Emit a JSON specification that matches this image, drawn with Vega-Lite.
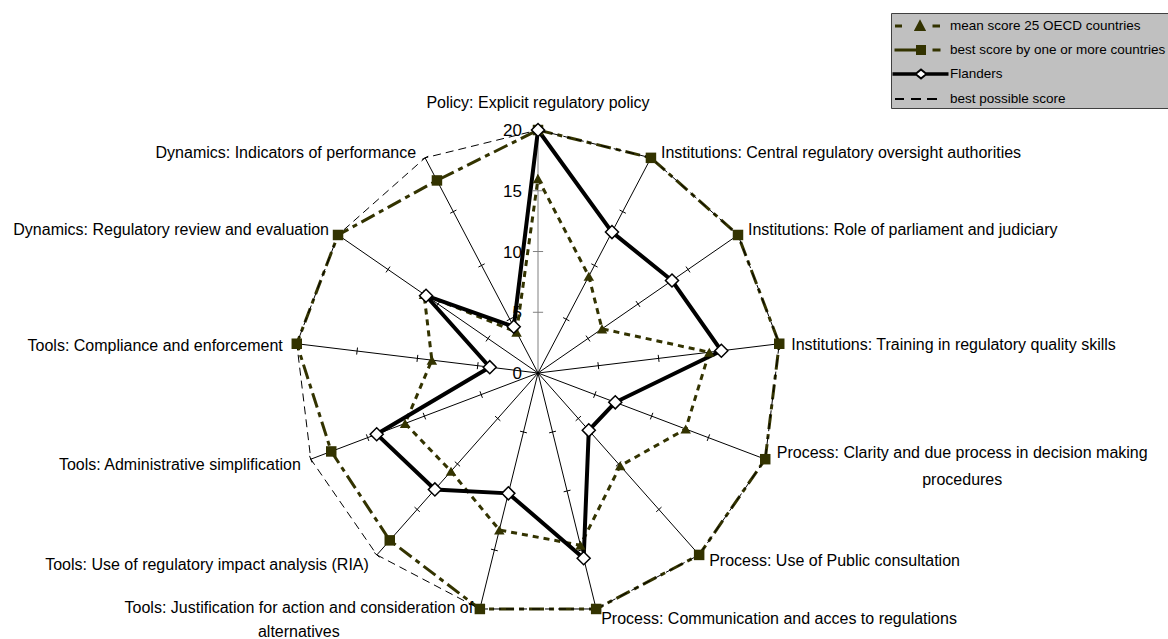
{
  "$schema": "https://vega.github.io/schema/vega-lite/v6.json",
  "width": 1168,
  "height": 639,
  "autosize": "none",
  "padding": 0,
  "background": "white",
  "config": {"view": {"stroke": null}, "font": "Liberation Sans"},
  "datasets": {
    "axes": [
      {"i": 0, "name": "Policy: Explicit regulatory policy", "ticks": [5, 10, 15, 20]},
      {"i": 1, "name": "Institutions: Central regulatory oversight authorities", "ticks": [5, 10, 15, 20]},
      {"i": 2, "name": "Institutions: Role of parliament and judiciary", "ticks": [5, 10, 15, 20]},
      {"i": 3, "name": "Institutions: Training in regulatory quality skills", "ticks": [5, 10, 15, 20]},
      {"i": 4, "name": "Process: Clarity and due process in decision making\nprocedures", "ticks": [5, 10, 15, 20]},
      {"i": 5, "name": "Process: Use of Public consultation", "ticks": [5, 10, 15, 20]},
      {"i": 6, "name": "Process: Communication and acces to regulations", "ticks": [5, 10, 15, 20]},
      {"i": 7, "name": "Tools: Justification for action and consideration of\nalternatives", "ticks": [5, 10, 15, 20]},
      {"i": 8, "name": "Tools: Use of regulatory impact analysis (RIA)", "ticks": [5, 10, 15, 20]},
      {"i": 9, "name": "Tools: Administrative simplification", "ticks": [5, 10, 15, 20]},
      {"i": 10, "name": "Tools: Compliance and enforcement", "ticks": [5, 10, 15, 20]},
      {"i": 11, "name": "Dynamics: Regulatory review and evaluation", "ticks": [5, 10, 15, 20]},
      {"i": 12, "name": "Dynamics: Indicators of performance", "ticks": [5, 10, 15, 20]}
    ],
    "scaleLabels": [{"v": 0}, {"v": 5}, {"v": 10}, {"v": 15}, {"v": 20}],
    "scores": [
      {"i": 0, "series": "mean score 25 OECD countries", "value": 16.0},
      {"i": 1, "series": "mean score 25 OECD countries", "value": 9.0},
      {"i": 2, "series": "mean score 25 OECD countries", "value": 6.4},
      {"i": 3, "series": "mean score 25 OECD countries", "value": 14.2},
      {"i": 4, "series": "mean score 25 OECD countries", "value": 13.0},
      {"i": 5, "series": "mean score 25 OECD countries", "value": 10.2},
      {"i": 6, "series": "mean score 25 OECD countries", "value": 14.6},
      {"i": 7, "series": "mean score 25 OECD countries", "value": 13.3},
      {"i": 8, "series": "mean score 25 OECD countries", "value": 10.8},
      {"i": 9, "series": "mean score 25 OECD countries", "value": 11.7},
      {"i": 10, "series": "mean score 25 OECD countries", "value": 8.8},
      {"i": 11, "series": "mean score 25 OECD countries", "value": 11.4},
      {"i": 12, "series": "mean score 25 OECD countries", "value": 3.8},
      {"i": 0, "series": "best score by one or more countries", "value": 20},
      {"i": 1, "series": "best score by one or more countries", "value": 20},
      {"i": 2, "series": "best score by one or more countries", "value": 20},
      {"i": 3, "series": "best score by one or more countries", "value": 20},
      {"i": 4, "series": "best score by one or more countries", "value": 20},
      {"i": 5, "series": "best score by one or more countries", "value": 20},
      {"i": 6, "series": "best score by one or more countries", "value": 20},
      {"i": 7, "series": "best score by one or more countries", "value": 20},
      {"i": 8, "series": "best score by one or more countries", "value": 18.4},
      {"i": 9, "series": "best score by one or more countries", "value": 18.2},
      {"i": 10, "series": "best score by one or more countries", "value": 20},
      {"i": 11, "series": "best score by one or more countries", "value": 20},
      {"i": 12, "series": "best score by one or more countries", "value": 17.9},
      {"i": 0, "series": "Flanders", "value": 20},
      {"i": 1, "series": "Flanders", "value": 13.1},
      {"i": 2, "series": "Flanders", "value": 13.4},
      {"i": 3, "series": "Flanders", "value": 15.2},
      {"i": 4, "series": "Flanders", "value": 6.8},
      {"i": 5, "series": "Flanders", "value": 6.3},
      {"i": 6, "series": "Flanders", "value": 15.7},
      {"i": 7, "series": "Flanders", "value": 10.2},
      {"i": 8, "series": "Flanders", "value": 12.8},
      {"i": 9, "series": "Flanders", "value": 14.2},
      {"i": 10, "series": "Flanders", "value": 4.0},
      {"i": 11, "series": "Flanders", "value": 11.2},
      {"i": 12, "series": "Flanders", "value": 4.3},
      {"i": 0, "series": "best possible score", "value": 20},
      {"i": 1, "series": "best possible score", "value": 20},
      {"i": 2, "series": "best possible score", "value": 20},
      {"i": 3, "series": "best possible score", "value": 20},
      {"i": 4, "series": "best possible score", "value": 20},
      {"i": 5, "series": "best possible score", "value": 20},
      {"i": 6, "series": "best possible score", "value": 20},
      {"i": 7, "series": "best possible score", "value": 20},
      {"i": 8, "series": "best possible score", "value": 20},
      {"i": 9, "series": "best possible score", "value": 20},
      {"i": 10, "series": "best possible score", "value": 20},
      {"i": 11, "series": "best possible score", "value": 20},
      {"i": 12, "series": "best possible score", "value": 20}
    ]
  },
  "layer": [
    {
      "data": {"name": "axes"},
      "transform": [
        {"calculate": "datum.i * 2 * PI / 13", "as": "a"},
        {"calculate": "20 * sin(datum.a)", "as": "ex"},
        {"calculate": "20 * cos(datum.a)", "as": "ey"}
      ],
      "mark": {"type": "rule", "strokeWidth": 1},
      "encoding": {
        "x": {"field": "ex", "type": "quantitative", "scale": {"domain": [-44.28, 51.85], "nice": false, "zero": false}, "axis": null},
        "x2": {"datum": 0},
        "y": {"field": "ey", "type": "quantitative", "scale": {"domain": [-21.89, 30.7], "nice": false, "zero": false}, "axis": null},
        "y2": {"datum": 0},
        "color": {"condition": {"test": "datum.i === 0", "value": "#808080"}, "value": "#000000"}
      }
    },
    {
      "data": {"name": "axes"},
      "transform": [
        {"flatten": ["ticks"], "as": ["t"]},
        {"calculate": "datum.i * 2 * PI / 13", "as": "a"},
        {"calculate": "datum.i === 0 ? 0.42 : 0.29", "as": "d"},
        {"calculate": "datum.t * sin(datum.a) - datum.d * cos(datum.a)", "as": "x1"},
        {"calculate": "datum.t * cos(datum.a) + datum.d * sin(datum.a)", "as": "y1"},
        {"calculate": "datum.t * sin(datum.a) + datum.d * cos(datum.a)", "as": "x2"},
        {"calculate": "datum.t * cos(datum.a) - datum.d * sin(datum.a)", "as": "y2"}
      ],
      "mark": {"type": "rule", "strokeWidth": 1},
      "encoding": {
        "x": {"field": "x1", "type": "quantitative", "scale": {"domain": [-44.28, 51.85], "nice": false, "zero": false}, "axis": null},
        "x2": {"field": "x2"},
        "y": {"field": "y1", "type": "quantitative", "scale": {"domain": [-21.89, 30.7], "nice": false, "zero": false}, "axis": null},
        "y2": {"field": "y2"},
        "color": {"condition": {"test": "datum.i === 0", "value": "#808080"}, "value": "#000000"}
      }
    },
    {
      "data": {"name": "scaleLabels"},
      "mark": {"type": "text", "align": "right", "baseline": "middle", "dx": -16, "dy": 1, "fontSize": 17, "color": "#000000"},
      "encoding": {
        "x": {"datum": 0, "type": "quantitative", "scale": {"domain": [-44.28, 51.85], "nice": false, "zero": false}, "axis": null},
        "y": {"field": "v", "type": "quantitative", "scale": {"domain": [-21.89, 30.7], "nice": false, "zero": false}, "axis": null},
        "text": {"field": "v", "type": "quantitative"}
      }
    },
    {
      "data": {"name": "scores"},
      "transform": [
        {"filter": "datum.series === 'mean score 25 OECD countries'"},
        {"calculate": "datum.i * 2 * PI / 13", "as": "a"},
        {"calculate": "datum.value * sin(datum.a)", "as": "px"},
        {"calculate": "datum.value * cos(datum.a)", "as": "py"}
      ],
      "mark": {"type": "line", "interpolate": "linear-closed", "strokeWidth": 3, "strokeDash": [6, 5]},
      "encoding": {
        "x": {"field": "px", "type": "quantitative", "scale": {"domain": [-44.28, 51.85], "nice": false, "zero": false}, "axis": null},
        "y": {"field": "py", "type": "quantitative", "scale": {"domain": [-21.89, 30.7], "nice": false, "zero": false}, "axis": null},
        "order": {"field": "i", "type": "quantitative"},
        "color": {
          "field": "series",
          "type": "nominal",
          "scale": {
            "domain": ["mean score 25 OECD countries", "best score by one or more countries", "Flanders", "best possible score"],
            "range": ["#333300", "#333300", "#000000", "#000000"]
          },
          "legend": {
            "orient": "none",
            "legendX": 891,
            "legendY": 13,
            "title": null,
            "padding": 2,
            "rowPadding": 5,
            "fillColor": "#c0c0c0",
            "strokeColor": "#404040",
            "labelFont": "Liberation Sans",
            "labelFontSize": 13.5,
            "labelColor": "#000000",
            "labelLimit": 400,
            "symbolSize": 400,
            "symbolStrokeWidth": 2,
            "symbolOffset": 16,
            "labelOffset": 19,
            "encode": {
              "symbols": {
                "update": {
                  "shape": {"signal": "datum.value === 'Flanders' ? 'M-2.65,-0.08H-0.45V0.08H-2.65Z M-0.45,0L0.1,-0.45L0.65,0L0.1,0.45Z M0.65,-0.08H2.75V0.08H0.65Z' : datum.value === 'best possible score' ? 'M-2.5,0H-1.6 M-0.9,0H0.1 M0.7,0H1.7' : datum.value === 'best score by one or more countries' ? 'M-2.45,-0.05H-0.35V0.05H-2.45Z M-0.3,-0.4H0.5V0.4H-0.3Z M1.35,-0.05H1.95V0.05H1.35Z' : 'M-2.4,-0.05H-1.9V0.05H-2.4Z M-0.45,0.4L0,-0.45L0.45,0.4Z M1.35,-0.05H1.9V0.05H1.35Z'"},
                  "fill": {"signal": "datum.value === 'Flanders' ? '#ffffff' : datum.value === 'best possible score' ? 'transparent' : '#333300'"},
                  "stroke": {"signal": "datum.value === 'Flanders' || datum.value === 'best possible score' ? '#000000' : '#333300'"},
                  "opacity": {"value": 1}
                }
              }
            }
          }
        }
      }
    },
    {
      "data": {"name": "scores"},
      "transform": [
        {"filter": "datum.series === 'best score by one or more countries'"},
        {"calculate": "datum.i * 2 * PI / 13", "as": "a"},
        {"calculate": "datum.value * sin(datum.a)", "as": "px"},
        {"calculate": "datum.value * cos(datum.a)", "as": "py"}
      ],
      "mark": {"type": "line", "interpolate": "linear-closed", "strokeWidth": 3, "strokeDash": [15, 5, 5, 5], "color": "#333300"},
      "encoding": {
        "x": {"field": "px", "type": "quantitative", "scale": {"domain": [-44.28, 51.85], "nice": false, "zero": false}, "axis": null},
        "y": {"field": "py", "type": "quantitative", "scale": {"domain": [-21.89, 30.7], "nice": false, "zero": false}, "axis": null},
        "order": {"field": "i", "type": "quantitative"}
      }
    },
    {
      "data": {"name": "scores"},
      "transform": [
        {"filter": "datum.series === 'best possible score'"},
        {"calculate": "datum.i * 2 * PI / 13", "as": "a"},
        {"calculate": "datum.value * sin(datum.a)", "as": "px"},
        {"calculate": "datum.value * cos(datum.a)", "as": "py"}
      ],
      "mark": {"type": "line", "interpolate": "linear-closed", "strokeWidth": 1, "strokeDash": [8, 5], "color": "#000000"},
      "encoding": {
        "x": {"field": "px", "type": "quantitative", "scale": {"domain": [-44.28, 51.85], "nice": false, "zero": false}, "axis": null},
        "y": {"field": "py", "type": "quantitative", "scale": {"domain": [-21.89, 30.7], "nice": false, "zero": false}, "axis": null},
        "order": {"field": "i", "type": "quantitative"}
      }
    },
    {
      "data": {"name": "scores"},
      "transform": [
        {"filter": "datum.series === 'Flanders'"},
        {"calculate": "datum.i * 2 * PI / 13", "as": "a"},
        {"calculate": "datum.value * sin(datum.a)", "as": "px"},
        {"calculate": "datum.value * cos(datum.a)", "as": "py"}
      ],
      "mark": {"type": "line", "interpolate": "linear-closed", "strokeWidth": 4, "color": "#000000"},
      "encoding": {
        "x": {"field": "px", "type": "quantitative", "scale": {"domain": [-44.28, 51.85], "nice": false, "zero": false}, "axis": null},
        "y": {"field": "py", "type": "quantitative", "scale": {"domain": [-21.89, 30.7], "nice": false, "zero": false}, "axis": null},
        "order": {"field": "i", "type": "quantitative"}
      }
    },
    {
      "data": {"name": "scores"},
      "transform": [
        {"filter": "datum.series === 'mean score 25 OECD countries'"},
        {"calculate": "datum.i * 2 * PI / 13", "as": "a"},
        {"calculate": "datum.value * sin(datum.a)", "as": "px"},
        {"calculate": "datum.value * cos(datum.a)", "as": "py"}
      ],
      "mark": {"type": "point", "shape": "triangle-up", "filled": true, "size": 110, "color": "#333300", "opacity": 1},
      "encoding": {
        "x": {"field": "px", "type": "quantitative", "scale": {"domain": [-44.28, 51.85], "nice": false, "zero": false}, "axis": null},
        "y": {"field": "py", "type": "quantitative", "scale": {"domain": [-21.89, 30.7], "nice": false, "zero": false}, "axis": null}
      }
    },
    {
      "data": {"name": "scores"},
      "transform": [
        {"filter": "datum.series === 'best score by one or more countries'"},
        {"calculate": "datum.i * 2 * PI / 13", "as": "a"},
        {"calculate": "datum.value * sin(datum.a)", "as": "px"},
        {"calculate": "datum.value * cos(datum.a)", "as": "py"}
      ],
      "mark": {"type": "point", "shape": "square", "filled": true, "size": 110, "color": "#333300", "opacity": 1},
      "encoding": {
        "x": {"field": "px", "type": "quantitative", "scale": {"domain": [-44.28, 51.85], "nice": false, "zero": false}, "axis": null},
        "y": {"field": "py", "type": "quantitative", "scale": {"domain": [-21.89, 30.7], "nice": false, "zero": false}, "axis": null}
      }
    },
    {
      "data": {"name": "scores"},
      "transform": [
        {"filter": "datum.series === 'Flanders'"},
        {"calculate": "datum.i * 2 * PI / 13", "as": "a"},
        {"calculate": "datum.value * sin(datum.a)", "as": "px"},
        {"calculate": "datum.value * cos(datum.a)", "as": "py"}
      ],
      "mark": {"type": "point", "shape": "diamond", "filled": true, "size": 170, "fill": "#ffffff", "stroke": "#000000", "strokeWidth": 1.5, "opacity": 1},
      "encoding": {
        "x": {"field": "px", "type": "quantitative", "scale": {"domain": [-44.28, 51.85], "nice": false, "zero": false}, "axis": null},
        "y": {"field": "py", "type": "quantitative", "scale": {"domain": [-21.89, 30.7], "nice": false, "zero": false}, "axis": null}
      }
    },
    {
      "data": {"name": "axes"},
      "transform": [
        {"filter": "datum.i === 0"},
        {"calculate": "datum.i * 2 * PI / 13", "as": "a"},
        {"calculate": "20 * sin(datum.a)", "as": "ex"},
        {"calculate": "20 * cos(datum.a)", "as": "ey"}
      ],
      "mark": {"type": "text", "align": "center", "baseline": "middle", "dy": -27, "fontSize": 16, "color": "#000000"},
      "encoding": {
        "x": {"field": "ex", "type": "quantitative", "scale": {"domain": [-44.28, 51.85], "nice": false, "zero": false}, "axis": null},
        "y": {"field": "ey", "type": "quantitative", "scale": {"domain": [-21.89, 30.7], "nice": false, "zero": false}, "axis": null},
        "text": {"field": "name", "type": "nominal"}
      }
    },
    {
      "data": {"name": "axes"},
      "transform": [
        {"filter": "datum.i === 4"},
        {"calculate": "datum.i * 2 * PI / 13", "as": "a"},
        {"calculate": "20 * sin(datum.a)", "as": "ex"},
        {"calculate": "20 * cos(datum.a)", "as": "ey"}
      ],
      "mark": {"type": "text", "align": "center", "baseline": "middle", "dx": 197, "dy": -6, "fontSize": 16, "color": "#000000", "lineBreak": "\n", "lineHeight": 27},
      "encoding": {
        "x": {"field": "ex", "type": "quantitative", "scale": {"domain": [-44.28, 51.85], "nice": false, "zero": false}, "axis": null},
        "y": {"field": "ey", "type": "quantitative", "scale": {"domain": [-21.89, 30.7], "nice": false, "zero": false}, "axis": null},
        "text": {"field": "name", "type": "nominal"}
      }
    },
    {
      "data": {"name": "axes"},
      "transform": [
        {"filter": "datum.i === 7"},
        {"calculate": "datum.i * 2 * PI / 13", "as": "a"},
        {"calculate": "20 * sin(datum.a)", "as": "ex"},
        {"calculate": "20 * cos(datum.a)", "as": "ey"}
      ],
      "mark": {"type": "text", "align": "center", "baseline": "middle", "dx": -181, "dy": -1, "fontSize": 16, "color": "#000000", "lineBreak": "\n", "lineHeight": 24},
      "encoding": {
        "x": {"field": "ex", "type": "quantitative", "scale": {"domain": [-44.28, 51.85], "nice": false, "zero": false}, "axis": null},
        "y": {"field": "ey", "type": "quantitative", "scale": {"domain": [-21.89, 30.7], "nice": false, "zero": false}, "axis": null},
        "text": {"field": "name", "type": "nominal"}
      }
    },
    {
      "data": {"name": "axes"},
      "transform": [
        {"filter": "datum.i === 1 || datum.i === 2"},
        {"calculate": "datum.i * 2 * PI / 13", "as": "a"},
        {"calculate": "20 * sin(datum.a)", "as": "ex"},
        {"calculate": "20 * cos(datum.a)", "as": "ey"}
      ],
      "mark": {"type": "text", "align": "left", "baseline": "middle", "dx": 10, "dy": -5, "fontSize": 16, "color": "#000000"},
      "encoding": {
        "x": {"field": "ex", "type": "quantitative", "scale": {"domain": [-44.28, 51.85], "nice": false, "zero": false}, "axis": null},
        "y": {"field": "ey", "type": "quantitative", "scale": {"domain": [-21.89, 30.7], "nice": false, "zero": false}, "axis": null},
        "text": {"field": "name", "type": "nominal"}
      }
    },
    {
      "data": {"name": "axes"},
      "transform": [
        {"filter": "datum.i === 3"},
        {"calculate": "datum.i * 2 * PI / 13", "as": "a"},
        {"calculate": "20 * sin(datum.a)", "as": "ex"},
        {"calculate": "20 * cos(datum.a)", "as": "ey"}
      ],
      "mark": {"type": "text", "align": "left", "baseline": "middle", "dx": 12, "dy": 1, "fontSize": 16, "color": "#000000"},
      "encoding": {
        "x": {"field": "ex", "type": "quantitative", "scale": {"domain": [-44.28, 51.85], "nice": false, "zero": false}, "axis": null},
        "y": {"field": "ey", "type": "quantitative", "scale": {"domain": [-21.89, 30.7], "nice": false, "zero": false}, "axis": null},
        "text": {"field": "name", "type": "nominal"}
      }
    },
    {
      "data": {"name": "axes"},
      "transform": [
        {"filter": "datum.i === 5"},
        {"calculate": "datum.i * 2 * PI / 13", "as": "a"},
        {"calculate": "20 * sin(datum.a)", "as": "ex"},
        {"calculate": "20 * cos(datum.a)", "as": "ey"}
      ],
      "mark": {"type": "text", "align": "left", "baseline": "middle", "dx": 10, "dy": 6, "fontSize": 16, "color": "#000000"},
      "encoding": {
        "x": {"field": "ex", "type": "quantitative", "scale": {"domain": [-44.28, 51.85], "nice": false, "zero": false}, "axis": null},
        "y": {"field": "ey", "type": "quantitative", "scale": {"domain": [-21.89, 30.7], "nice": false, "zero": false}, "axis": null},
        "text": {"field": "name", "type": "nominal"}
      }
    },
    {
      "data": {"name": "axes"},
      "transform": [
        {"filter": "datum.i === 6"},
        {"calculate": "datum.i * 2 * PI / 13", "as": "a"},
        {"calculate": "20 * sin(datum.a)", "as": "ex"},
        {"calculate": "20 * cos(datum.a)", "as": "ey"}
      ],
      "mark": {"type": "text", "align": "left", "baseline": "middle", "dx": 5, "dy": 10, "fontSize": 16, "color": "#000000"},
      "encoding": {
        "x": {"field": "ex", "type": "quantitative", "scale": {"domain": [-44.28, 51.85], "nice": false, "zero": false}, "axis": null},
        "y": {"field": "ey", "type": "quantitative", "scale": {"domain": [-21.89, 30.7], "nice": false, "zero": false}, "axis": null},
        "text": {"field": "name", "type": "nominal"}
      }
    },
    {
      "data": {"name": "axes"},
      "transform": [
        {"filter": "datum.i === 8"},
        {"calculate": "datum.i * 2 * PI / 13", "as": "a"},
        {"calculate": "20 * sin(datum.a)", "as": "ex"},
        {"calculate": "20 * cos(datum.a)", "as": "ey"}
      ],
      "mark": {"type": "text", "align": "right", "baseline": "middle", "dx": -8, "dy": 10, "fontSize": 16, "color": "#000000"},
      "encoding": {
        "x": {"field": "ex", "type": "quantitative", "scale": {"domain": [-44.28, 51.85], "nice": false, "zero": false}, "axis": null},
        "y": {"field": "ey", "type": "quantitative", "scale": {"domain": [-21.89, 30.7], "nice": false, "zero": false}, "axis": null},
        "text": {"field": "name", "type": "nominal"}
      }
    },
    {
      "data": {"name": "axes"},
      "transform": [
        {"filter": "datum.i === 9"},
        {"calculate": "datum.i * 2 * PI / 13", "as": "a"},
        {"calculate": "20 * sin(datum.a)", "as": "ex"},
        {"calculate": "20 * cos(datum.a)", "as": "ey"}
      ],
      "mark": {"type": "text", "align": "right", "baseline": "middle", "dx": -10, "dy": 6, "fontSize": 16, "color": "#000000"},
      "encoding": {
        "x": {"field": "ex", "type": "quantitative", "scale": {"domain": [-44.28, 51.85], "nice": false, "zero": false}, "axis": null},
        "y": {"field": "ey", "type": "quantitative", "scale": {"domain": [-21.89, 30.7], "nice": false, "zero": false}, "axis": null},
        "text": {"field": "name", "type": "nominal"}
      }
    },
    {
      "data": {"name": "axes"},
      "transform": [
        {"filter": "datum.i === 10"},
        {"calculate": "datum.i * 2 * PI / 13", "as": "a"},
        {"calculate": "20 * sin(datum.a)", "as": "ex"},
        {"calculate": "20 * cos(datum.a)", "as": "ey"}
      ],
      "mark": {"type": "text", "align": "right", "baseline": "middle", "dx": -14, "dy": 2, "fontSize": 16, "color": "#000000"},
      "encoding": {
        "x": {"field": "ex", "type": "quantitative", "scale": {"domain": [-44.28, 51.85], "nice": false, "zero": false}, "axis": null},
        "y": {"field": "ey", "type": "quantitative", "scale": {"domain": [-21.89, 30.7], "nice": false, "zero": false}, "axis": null},
        "text": {"field": "name", "type": "nominal"}
      }
    },
    {
      "data": {"name": "axes"},
      "transform": [
        {"filter": "datum.i === 11 || datum.i === 12"},
        {"calculate": "datum.i * 2 * PI / 13", "as": "a"},
        {"calculate": "20 * sin(datum.a)", "as": "ex"},
        {"calculate": "20 * cos(datum.a)", "as": "ey"}
      ],
      "mark": {"type": "text", "align": "right", "baseline": "middle", "dx": -9, "dy": -5, "fontSize": 16, "color": "#000000"},
      "encoding": {
        "x": {"field": "ex", "type": "quantitative", "scale": {"domain": [-44.28, 51.85], "nice": false, "zero": false}, "axis": null},
        "y": {"field": "ey", "type": "quantitative", "scale": {"domain": [-21.89, 30.7], "nice": false, "zero": false}, "axis": null},
        "text": {"field": "name", "type": "nominal"}
      }
    }
  ]
}
